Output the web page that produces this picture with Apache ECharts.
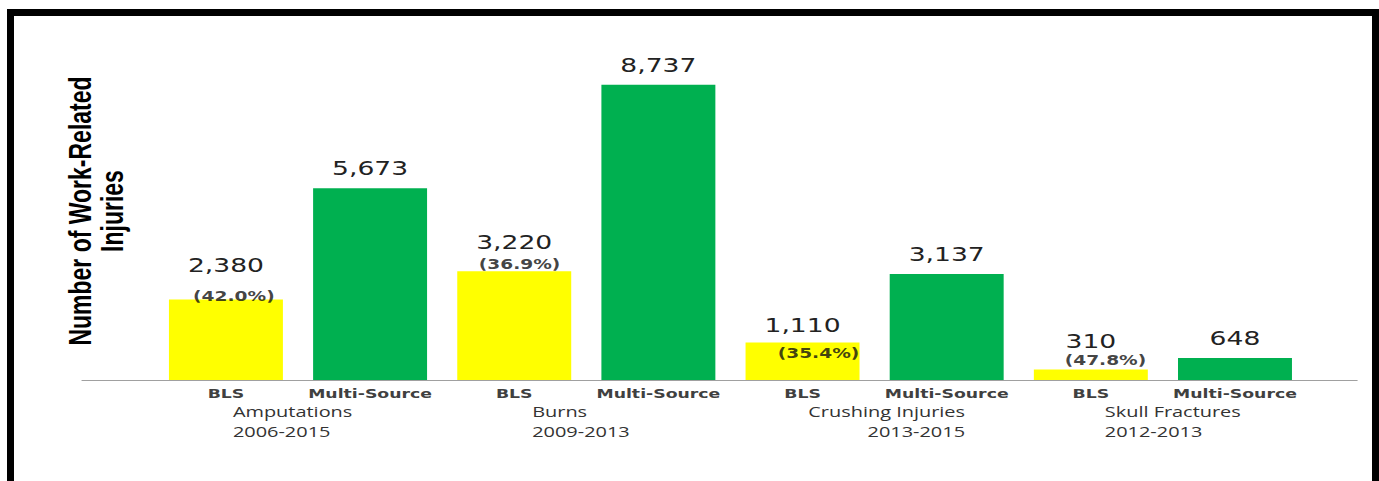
<!DOCTYPE html>
<html>
<head>
<meta charset="utf-8">
<script src="https://cdn.jsdelivr.net/npm/echarts@6/dist/echarts.min.js"></script>
<style>
    html, body { margin: 0; padding: 0; background: #fff; }
    body { width: 1379px; height: 481px; position: relative; overflow: hidden; }
    #frame { position: absolute; left: 7px; top: 9px; width: 1358px; height: 500px;
             border: 7px solid #000; border-bottom: none; }
    /* the source picture is stretched sideways, so the chart is drawn narrow and scaled */
    #charts { position: absolute; left: 0; top: 0; width: 1037px; height: 481px;
              transform: scaleX(1.3298); transform-origin: 0 0; }
</style>
</head>
<body>
<div id="frame"></div>
<div id="charts"></div>
<script>
var groups = ['Amputations', 'Burns', 'Crushing Injuries', 'Skull Fractures'];
var groupYears = ['2006-2015', '2009-2013', '2013-2015', '2012-2013'];
var barNames = ['BLS', 'Multi-Source'];
var blsValues = [2380, 3220, 1110, 310];
var multiValues = [5673, 8737, 3137, 648];
var blsShare = ['(42.0%)', '(36.9%)', '(35.4%)', '(47.8%)'];

// label placement per group (px, before the sideways stretch)
var blsLabelGap = [24, 19, 7, 18];
var shareOffset = [[6, -3], [4, -7], [12, 11], [11, -9]];
var groupAlign = ['left', 'left', 'right', 'left'];
var groupShift = [-4, -4, 9, 7.5];

function fmt(v) {
    return String(v).replace(/\B(?=(\d{3})+(?!\d))/g, ',');
}

var slots = [], blsData = [], multiData = [], shareData = [];
groups.forEach(function (g, i) {
    slots.push(barNames[0], barNames[1]);
    blsData.push({value: blsValues[i], label: {distance: blsLabelGap[i]}}, '-');
    multiData.push('-', multiValues[i]);
    shareData.push({value: blsValues[i], label: {formatter: blsShare[i], offset: shareOffset[i]}}, '-');
});

// one rich style per group: alignment of the two lines and a small sideways nudge
var groupRich = {};
groups.forEach(function (g, i) {
    var s = groupShift[i];
    groupRich['g' + i] = {
        align: groupAlign[i],
        padding: s >= 0 ? [0, 0, 0, 2 * s] : [0, -2 * s, 0, 0],
        fontFamily: 'Open Sans',
        fontSize: 15,
        lineHeight: 20,
        color: '#333'
    };
});

var valueLabel = {
    show: true,
    position: 'top',
    distance: 10,
    fontFamily: 'DejaVu Sans',
    fontSize: 20,
    color: '#222',
    formatter: function (p) { return fmt(p.value); }
};

var option = {
    animation: false,
    backgroundColor: 'transparent',
    grid: [
        {left: 115.7, right: 54.1, top: 42, bottom: 101},
        {left: 61.7, right: 16.5, top: 42, bottom: 101}
    ],
    xAxis: [
        {
            type: 'category',
            gridIndex: 0,
            data: slots,
            axisLine: {show: false},
            axisTick: {show: false},
            axisLabel: {
                interval: 0,
                margin: 7,
                fontFamily: 'DejaVu Sans',
                fontWeight: 'bold',
                fontSize: 13,
                color: '#404040'
            }
        },
        {
            type: 'category',
            gridIndex: 0,
            position: 'bottom',
            data: groups,
            axisLine: {show: false},
            axisTick: {show: false},
            axisLabel: {
                interval: 0,
                margin: 21,
                formatter: function (v, i) {
                    return '{g' + i + '|' + v + '}\n{g' + i + '|' + groupYears[i] + '}';
                },
                rich: groupRich
            }
        },
        {
            type: 'value',
            gridIndex: 1,
            min: 0,
            max: 1,
            axisLine: {show: true, lineStyle: {color: '#a0a0a0', width: 1}},
            axisTick: {show: false},
            axisLabel: {show: false},
            splitLine: {show: false}
        }
    ],
    yAxis: [
        {
            type: 'value',
            gridIndex: 0,
            min: 0,
            max: 10000,
            name: 'Number of Work-Related\nInjuries',
            nameLocation: 'middle',
            nameRotate: 90,
            nameGap: 19,
            nameTextStyle: {
                fontFamily: 'Liberation Sans',
                fontWeight: 'bold',
                fontSize: 23,
                lineHeight: 24,
                color: '#000'
            },
            axisLine: {show: false},
            axisTick: {show: false},
            axisLabel: {show: false},
            splitLine: {show: false}
        },
        {
            type: 'value',
            gridIndex: 1,
            min: 0,
            max: 1,
            show: false
        }
    ],
    series: [
        {
            name: 'BLS',
            type: 'bar',
            xAxisIndex: 0,
            yAxisIndex: 0,
            barWidth: 85.7,
            barGap: '-100%',
            itemStyle: {color: '#ffff00'},
            label: valueLabel,
            data: blsData
        },
        {
            name: 'Multi-Source',
            type: 'bar',
            xAxisIndex: 0,
            yAxisIndex: 0,
            barWidth: 85.7,
            barGap: '-100%',
            itemStyle: {color: '#00b050'},
            label: valueLabel,
            data: multiData
        },
        {
            name: 'BLS share',
            type: 'scatter',
            xAxisIndex: 0,
            yAxisIndex: 0,
            symbolSize: 0,
            silent: true,
            z: 5,
            label: {
                show: true,
                position: 'inside',
                fontFamily: 'DejaVu Sans',
                fontWeight: 'bold',
                fontSize: 14,
                lineHeight: 14,
                color: '#111'
            },
            data: shareData
        }
    ]
};

var chart = echarts.init(document.getElementById('charts'), null, {renderer: 'svg'});
chart.setOption(option);
</script>
</body>
</html>
